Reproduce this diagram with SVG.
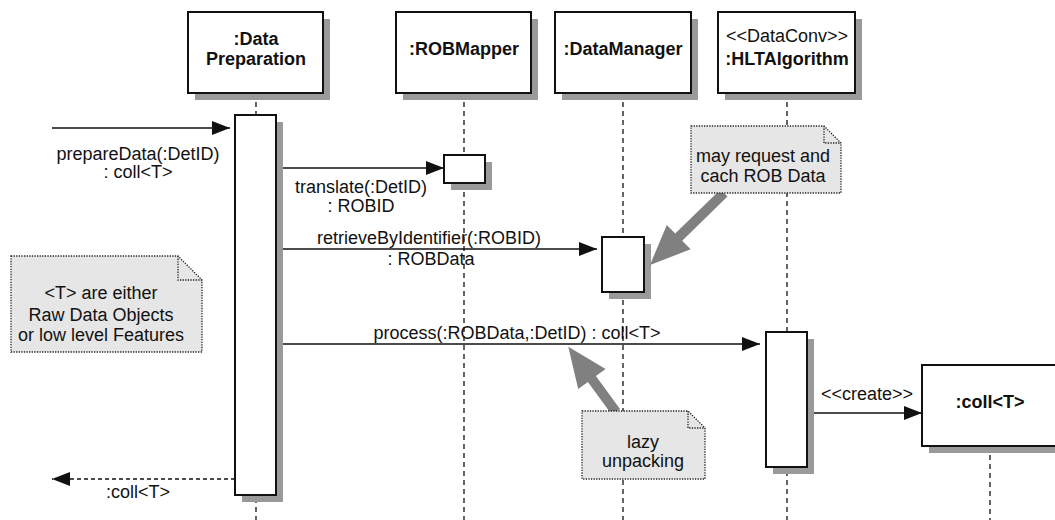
<svg xmlns="http://www.w3.org/2000/svg" width="1055" height="520" viewBox="0 0 1055 520">
<style>
text{font-family:"Liberation Sans",Arial,sans-serif;font-size:18px;fill:#111;text-anchor:middle}
.b{font-weight:bold}
.box{fill:#fff;stroke:#111;stroke-width:2}
.sh{fill:#9a9a9a}
.life{stroke:#111;stroke-width:1.3;stroke-dasharray:5,4;fill:none}
.msg{stroke:#111;stroke-width:1.6;fill:none}
.ret{stroke:#111;stroke-width:1.6;fill:none;stroke-dasharray:4,3}
.note{fill:#e6e6e6;stroke:#222;stroke-width:1.3;stroke-dasharray:1.3,1.3}
.fold{fill:none;stroke:#222;stroke-width:1.3;stroke-dasharray:1.3,1.3}
.garrow{fill:#808080}
</style>
<defs>
<marker id="ah" markerUnits="userSpaceOnUse" markerWidth="20" markerHeight="16" refX="18" refY="7" orient="auto">
<path d="M0,0 L18,7 L0,14 z" fill="#111"/>
</marker>
</defs>
<g id="lifelines">
<line class="life" x1="256" y1="93" x2="256" y2="520"/>
<line class="life" x1="464" y1="93" x2="464" y2="520"/>
<line class="life" x1="623" y1="93" x2="623" y2="520"/>
<line class="life" x1="787" y1="93" x2="787" y2="520"/>
<line class="life" x1="990" y1="446" x2="990" y2="520"/>
</g>
<g id="node-datapreparation">
<rect class="sh" x="195" y="19" width="135" height="81"/>
<rect class="box" x="188" y="12" width="135" height="81"/>
<text class="b" x="256" y="45">:Data</text>
<text class="b" x="256" y="65">Preparation</text>
</g>
<g id="node-robmapper">
<rect class="sh" x="403" y="19" width="135" height="81"/>
<rect class="box" x="396" y="12" width="135" height="81"/>
<text class="b" x="464" y="55">:ROBMapper</text>
</g>
<g id="node-datamanager">
<rect class="sh" x="562" y="19" width="136" height="81"/>
<rect class="box" x="555" y="12" width="136" height="81"/>
<text class="b" x="623" y="55">:DataManager</text>
</g>
<g id="node-hltalgorithm">
<rect class="sh" x="725" y="19" width="137" height="81"/>
<rect class="box" x="718" y="12" width="137" height="81"/>
<text x="787" y="42">&lt;&lt;DataConv&gt;&gt;</text>
<text class="b" x="787" y="65">:HLTAlgorithm</text>
</g>
<g id="node-coll">
<rect class="sh" x="929" y="372" width="136" height="81"/>
<rect class="box" x="922" y="365" width="136" height="81"/>
<text class="b" x="990" y="408">:coll&lt;T&gt;</text>
</g>
<g id="activations">
<rect class="sh" x="242" y="122" width="41" height="380"/>
<rect class="box" x="235" y="115" width="41" height="380"/>
<rect class="sh" x="451" y="162" width="41" height="28"/>
<rect class="box" x="444" y="155" width="41" height="28"/>
<rect class="sh" x="609" y="244" width="42" height="55"/>
<rect class="box" x="602" y="237" width="42" height="55"/>
<rect class="sh" x="773" y="339" width="41" height="135"/>
<rect class="box" x="766" y="332" width="41" height="135"/>
</g>
<g id="connectors">
<line class="msg" x1="52" y1="128" x2="230" y2="128" marker-end="url(#ah)"/>
<line class="msg" x1="283" y1="168" x2="444" y2="168" marker-end="url(#ah)"/>
<line class="msg" x1="283" y1="249" x2="597" y2="249" marker-end="url(#ah)"/>
<line class="msg" x1="283" y1="344" x2="760" y2="344" marker-end="url(#ah)"/>
<line class="msg" x1="814" y1="413" x2="922" y2="413" marker-end="url(#ah)"/>
<line class="ret" x1="235" y1="479" x2="52" y2="479" marker-end="url(#ah)"/>
<polygon class="garrow" points="727.5,196.6 682.2,240.7 690.6,249.3 650,265 666.8,224.9 675.2,233.5 720.5,189.4"/>
<polygon class="garrow" points="620.0,409.1 595.9,376.1 605.6,369.0 568.3,346.7 578.2,389.0 587.9,381.9 612.0,414.9"/>
</g>
<g id="labels">
<text x="138" y="160">prepareData(:DetID)</text>
<text x="138" y="178">: coll&lt;T&gt;</text>
<text x="361" y="193">translate(:DetID)</text>
<text x="361" y="212">: ROBID</text>
<text x="429" y="244">retrieveByIdentifier(:ROBID)</text>
<text x="431" y="265">: ROBData</text>
<text x="517" y="339">process(:ROBData,:DetID) : coll&lt;T&gt;</text>
<text x="867" y="400">&lt;&lt;create&gt;&gt;</text>
<text x="138" y="498">:coll&lt;T&gt;</text>
</g>
<g id="note-cache">
<path class="note" d="M691,126 H824 L841,143 V193 H691 Z"/>
<path class="fold" d="M824,126 V143 H841"/>
<text x="763" y="162">may request and</text>
<text x="763" y="182">cach ROB Data</text>
</g>
<g id="note-types">
<path class="note" d="M11,256 H178 L202,280 V352 H11 Z"/>
<path class="fold" d="M178,256 V280 H202"/>
<text x="101" y="299">&lt;T&gt; are either</text>
<text x="101" y="321">Raw Data Objects</text>
<text x="101" y="341">or low level Features</text>
</g>
<g id="note-lazy">
<path class="note" d="M582,411 H688 L705,428 V479 H582 Z"/>
<path class="fold" d="M688,411 V428 H705"/>
<text x="643" y="448">lazy</text>
<text x="643" y="467">unpacking</text>
</g>
</svg>
